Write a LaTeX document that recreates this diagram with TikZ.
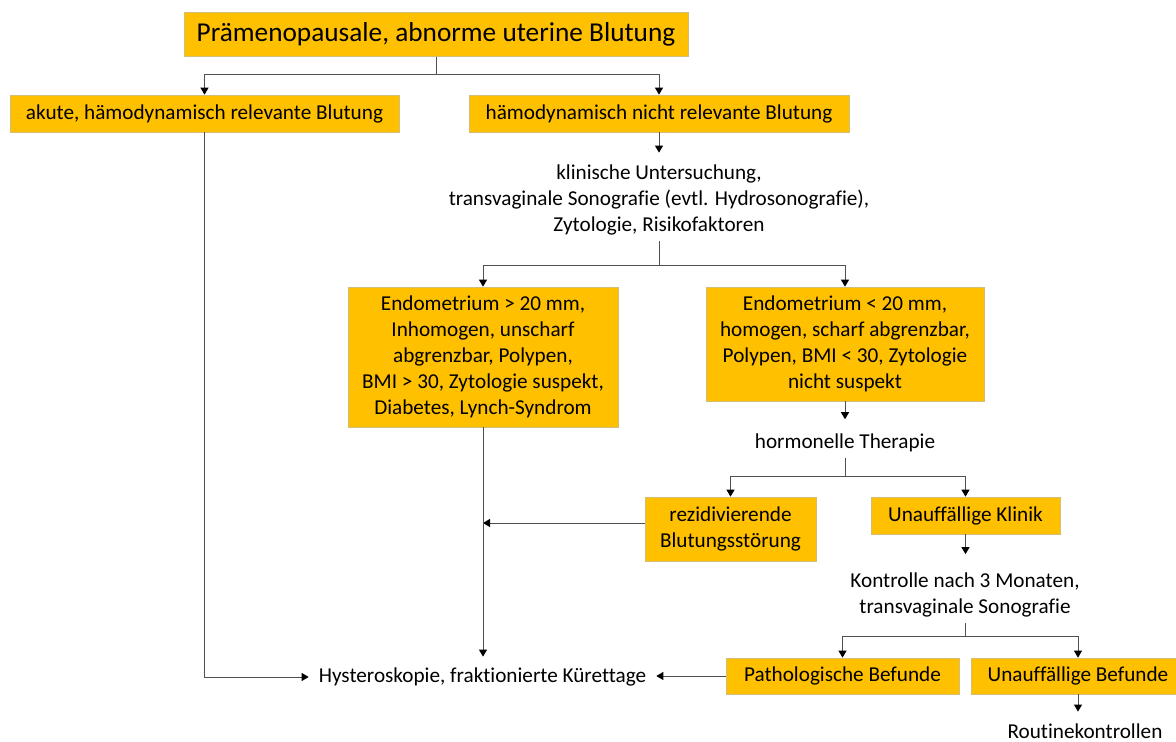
\documentclass[tikz,border=0pt]{standalone}
\usepackage{fontspec}
\setmainfont{Carlito}[Ligatures=NoCommon]
\usetikzlibrary{arrows.meta}
\definecolor{gold}{RGB}{255,192,0}
\definecolor{boxline}{RGB}{210,190,120}
\definecolor{linegray}{RGB}{80,80,80}
\begin{document}
\begin{tikzpicture}[x=1pt,y=-1pt,
  box/.style={fill=gold,draw=boxline,line width=0.7pt,align=center,inner sep=0pt,font=\fontsize{21.2}{26}\selectfont},
  txt/.style={align=center,inner xsep=2pt,inner ysep=6pt,font=\fontsize{21.2}{26}\selectfont},
  conn/.style={draw=linegray,line width=0.9pt},
  arr/.style={conn,-{Triangle[width=8pt,length=7pt,color=black]}}]
\useasboundingbox (0,0) rectangle (1176,742);
% boxes and texts
\node[box,minimum width=504pt,minimum height=44pt,font=\fontsize{27.3}{32}\selectfont] (title) at (436,34.5) {Prämenopausale, abnorme uterine Blutung};
\node[box,minimum width=389pt,minimum height=37pt] (akute) at (204.5,113.5) {akute, hämodynamisch relevante Blutung};
\node[box,minimum width=380pt,minimum height=37pt] (nicht) at (659,113.5) {hämodynamisch nicht relevante Blutung};
\node[txt] (klin) at (659,200) {klinische Untersuchung,\\transvaginale Sonografie (evtl. Hydrosonografie),\\Zytologie, Risikofaktoren};
\node[box,minimum width=270pt,minimum height=140pt] (endoA) at (483,357) {Endometrium > 20 mm,\\Inhomogen, unscharf\\abgrenzbar, Polypen,\\BMI > 30, Zytologie suspekt,\\Diabetes, Lynch-Syndrom};
\node[box,minimum width=278pt,minimum height=114pt] (endoB) at (845,344) {Endometrium < 20 mm,\\homogen, scharf abgrenzbar,\\Polypen, BMI < 30, Zytologie\\nicht suspekt};
\node[txt] (horm) at (845,442.5) {hormonelle Therapie};
\node[box,minimum width=171pt,minimum height=64pt] (rez) at (730.5,529) {rezidivierende\\Blutungsstörung};
\node[box,minimum width=189pt,minimum height=37pt] (ukl) at (965.5,515.5) {Unauffällige Klinik};
\node[txt] (kontr) at (965,594.5) {Kontrolle nach 3 Monaten,\\transvaginale Sonografie};
\node[box,minimum width=233pt,minimum height=36pt] (path) at (842.5,676) {Pathologische Befunde};
\node[box,minimum width=214pt,minimum height=36pt] (ubef) at (1078,676) {Unauffällige Befunde};
\node[txt,inner xsep=10pt] (hyst) at (482.5,677) {Hysteroskopie, fraktionierte Kürettage};
\node[txt,anchor=base,inner ysep=2pt] (rout) at (1085,738.5) {Routinekontrollen};
% connectors
\draw[conn] (title.south) -- ++(0,18) coordinate (s1);
\draw[arr] (s1) -| (akute.north);
\draw[arr] (s1) -| (nicht.north);
\draw[arr] (akute.south) |- (hyst.west);
\draw[arr,shorten >=6pt] (nicht.south) -- (klin.north);
\draw[conn] (klin.south) -- ++(0,24) coordinate (s2);
\draw[arr] (s2) -| (endoA.north);
\draw[arr] (s2) -| (endoB.north);
\draw[arr,shorten >=8pt] (endoB.south) -- (horm.north);
\draw[conn] (horm.south) -- ++(0,19) coordinate (s3);
\draw[arr] (s3) -| (rez.north);
\draw[arr] (s3) -| (ukl.north);
\draw[arr] ([yshift=6pt]rez.west) -- ([yshift=6pt]rez.west -| endoA.south);
\draw[arr,shorten >=5pt] (endoA.south) -- (endoA.south |- hyst.north);
\draw[arr] (path.west) -- (path.west -| hyst.east);
\draw[arr,shorten >=12pt] (ukl.south) -- (ukl.south |- kontr.north);
\draw[conn] (kontr.south) -- ++(0,14) coordinate (s4);
\draw[arr] (s4) -| (path.north);
\draw[arr] (s4) -| (ubef.north);
\draw[arr,shorten >=10pt] (ubef.south) -- (ubef.south |- rout.north);
\end{tikzpicture}
\end{document}
